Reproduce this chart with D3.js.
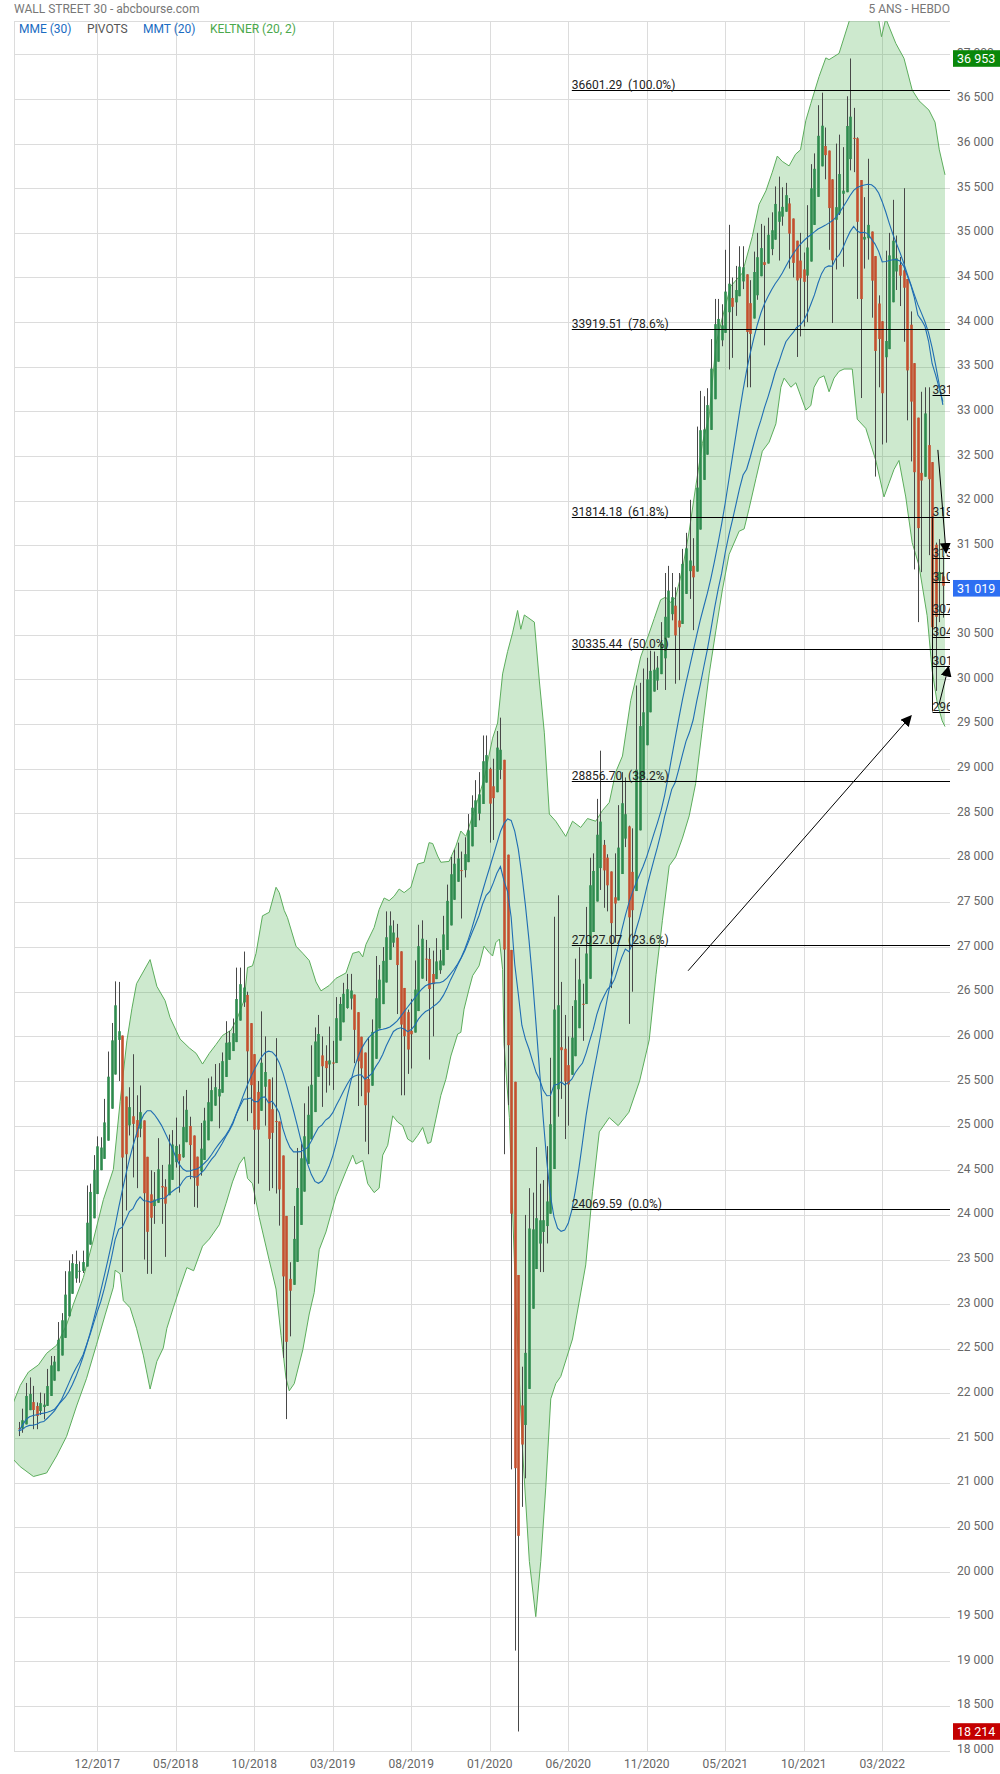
<!DOCTYPE html>
<html><head><meta charset="utf-8">
<script src="https://cdn.jsdelivr.net/npm/d3@7"></script>
<style>body{margin:0;background:#fff;} svg{display:block;font-family:Roboto,"Noto Sans",sans-serif;}</style>
</head><body><svg id="c" width="1000" height="1774"></svg>
<script>
// ---- weekly data (week 0 = 17/07/2017) ----
const opens = [21640,21580,21850,22100,21900,21680,21810,21990,21900,22270,22350,22420,22770,22870,23330,23440,23540,23420,23380,23560,24280,24360,24740,24750,24810,25310,25800,26100,26600,25500,24200,25200,25320,24500,25340,24940,23600,24100,23950,24370,24460,24310,24270,24830,24720,24760,24650,25320,25050,24600,24270,24480,25020,25070,25450,25470,25300,25680,25800,25960,25910,26160,26740,26460,26440,25330,25450,24700,25280,25990,25400,24300,25550,24400,24100,22400,23060,23450,23950,24650,24750,25060,25100,25890,26040,26000,25460,25860,25500,25980,26430,26420,26560,26550,26200,25900,25750,25600,24830,25990,26100,26720,26740,26930,27330,27160,27200,26400,26280,25900,25630,26400,26800,27220,26930,26820,26560,26810,26770,26960,27350,27680,28000,27880,28040,28020,28140,28460,28650,28640,28830,29350,28990,28260,29100,29400,28900,25410,25860,23180,19170,21630,21050,23720,24240,23780,23720,24330,23690,24460,25380,27110,25600,25870,25020,25830,26080,26670,26470,26430,27440,27930,27930,28650,28130,27670,27660,27170,27680,28590,28600,28330,26500,28320,29480,29260,29910,30220,30050,30180,30200,30630,31080,30830,31000,30000,31150,31470,31480,30940,31500,32790,32640,33080,33160,33800,34180,34050,33900,34780,34380,34210,34530,34760,34480,33300,34430,34790,34880,34680,35060,34930,35210,35520,35120,35460,35370,34610,34580,34800,34330,34740,35300,35680,35830,36330,36100,35600,34900,34590,35970,35360,35960,36320,36230,35900,34260,34730,35090,34740,34080,34060,33600,32950,34750,34860,34810,34720,34450,33800,32980,32900,32200,31270,33210,32910,31390,29900,31500,31100];
const highs = [21681,21830,22118,22180,22085,21900,22010,22000,22275,22420,22420,22800,22900,23370,23490,23560,23600,23480,23600,24330,24350,24670,24880,24870,25300,25830,26150,26616,26610,25520,25250,25430,25800,25340,25450,25000,24200,24500,24480,24860,24560,24400,24900,24950,25090,24790,25330,25400,25100,24700,24500,25030,25200,25530,25550,25690,25700,25820,26170,26060,26200,26770,26770,26950,26500,25900,25560,25500,26280,26000,25450,25540,25980,24760,24300,23140,23470,24100,24750,24800,25250,25440,25900,26100,26240,26000,25900,26110,25950,26440,26440,26600,26700,26700,26450,26000,25900,25680,25990,26190,26900,26800,27000,27400,27400,27300,27260,26500,26500,26300,26420,26850,27250,27300,27080,26990,26960,27100,26970,27350,27700,28010,28090,28170,28070,28230,28490,28700,28870,28960,29370,29370,29010,29110,29420,29570,28900,27100,25860,23180,22600,22300,24000,24300,24250,24760,24350,24390,24770,25760,27340,27580,26610,26240,26000,26340,26870,27000,26590,27450,28000,28050,28660,29200,28200,28040,27700,28050,28590,28960,28900,28360,28330,29930,29960,30120,30240,30320,30310,30260,30640,31190,31270,31190,31030,31190,31460,31640,32010,31580,32830,33230,33170,33260,33810,34260,34260,34200,34810,35090,34500,34630,34850,34850,34520,34470,34790,35000,35100,35080,35170,35230,35520,35630,35510,35560,35390,34960,34880,35000,34780,35310,35770,35890,36430,36570,36180,35800,35300,36000,36100,35960,36530,36953,36400,36070,34900,35400,35830,34990,34300,34300,33640,34800,35000,35370,34970,34730,35500,34160,34120,32950,32670,33220,33270,33270,31400,31530,31570,31380];
const lows = [21523,21560,21830,21840,21600,21600,21760,21710,21890,22220,22250,22410,22740,22860,23220,23300,23240,23240,23350,23530,24070,24340,24700,24680,24740,25250,25800,26060,25500,23360,24050,24890,24420,24300,24870,23500,23340,23340,23900,24350,23900,23530,24260,24660,24530,24250,24640,24900,24400,24090,24080,24440,24950,25000,25130,25250,24970,25600,25780,25800,25880,26000,26370,26330,25050,25140,24120,24350,25270,25000,24270,24300,24240,23880,22400,21713,22640,23380,23800,24350,24460,24880,24950,25750,25800,25210,25370,25450,25400,25970,26170,26330,26310,26300,25700,25220,25330,24820,24680,25930,25990,26420,26720,26780,27080,27000,26250,25340,25340,25580,25640,26050,26770,26920,26620,25740,26000,26680,26700,26910,27340,27570,27770,27870,27320,27780,28140,28440,28420,28420,28780,28890,28170,28200,29020,28880,24680,25230,21150,19120,18214,20730,21050,23130,23090,23590,23360,23360,23680,24460,25370,25100,25300,24850,25000,25700,26000,26410,25950,26400,27400,27500,27790,27640,27440,27400,26540,27050,27600,28290,28120,26140,26500,28220,29200,29230,29630,29790,29890,29880,30200,29880,30800,30660,29950,29990,31100,31260,30900,30550,31480,32510,32310,32790,33150,33650,33660,33730,33880,33470,33600,34070,34350,34370,33270,33270,34240,34250,34650,33740,34750,34750,35050,34690,35080,35300,34600,34500,33610,33840,33950,34000,35250,35480,35760,35800,35600,34810,33990,34590,35200,34620,35960,35700,35680,34260,33150,34600,34700,34050,32270,33270,32630,32650,34380,34600,34360,34180,33780,32900,32440,31230,30640,31200,32530,31390,29653,29870,30640,30690];
const closes = [21580,21830,22092,21858,21675,21814,21988,21798,22268,22350,22405,22774,22871,23329,23434,23539,23422,23358,23558,24231,24329,24651,24754,24719,25295,25803,26072,26616,25521,24191,25219,25310,24538,25336,24946,23533,24103,23933,24360,24463,24311,24263,24831,24715,24753,24635,25317,25090,24581,24271,24456,25019,25058,25451,25463,25313,25669,25790,25965,25917,26154,26743,26458,26447,25340,25444,24688,25270,25989,25413,24286,25538,24389,24100,22445,23062,23433,23996,24706,24737,25064,25106,25883,26031,26026,25450,25849,25502,25929,26425,26412,26559,26543,26505,25942,25764,25586,24815,25984,26090,26719,26600,26922,27332,27154,27192,26485,26287,25886,25629,26403,26797,27220,26935,26820,26573,26817,26770,26958,27347,27681,28005,27876,28051,28015,28135,28455,28645,28635,28824,29348,28990,28256,29102,29398,28992,25409,25865,23186,19174,21637,21053,23720,24242,23775,23724,24331,23685,24465,25383,27111,25606,25871,25016,25827,26075,26672,26470,26428,27433,27931,27930,28654,28133,27666,27657,27174,27682,28587,28606,28335,26502,28323,29479,29263,29910,30218,30046,30179,30199,30606,31098,30814,30997,29983,31148,31458,31494,30932,31496,32779,32628,33073,33153,33801,34200,34043,33875,34778,34382,34208,34529,34756,34480,33290,34433,34786,34870,34688,35062,34935,35209,35515,35120,35455,35369,34607,34584,34798,34326,34746,35295,35677,35820,36328,36100,35602,34899,34580,35971,35365,35951,36338,36232,35912,34265,34725,35089,34738,34079,34059,33615,32944,34755,34861,34818,34721,34451,33811,32977,32899,32197,31262,33213,32900,31393,29888,31501,31097,31019];

// Keltner band: [week index, value]
const keltnerUpper = [[-1.5,21900],[0.4,22090],[2.7,22240],[5.5,22320],[7.8,22450],[10.6,22540],[13.4,22770],[15.3,23000],[18.1,23300],[20.9,23720],[23.7,24170],[26.5,24510],[28.4,25270],[30.3,25950],[31.7,26310],[33,26590],[36.8,26860],[38.7,26560],[41,26400],[42.4,26210],[45.2,25970],[47.8,25870],[49.7,25810],[51.5,25690],[53.4,25810],[55.3,25910],[57.1,26010],[59.5,26070],[61.3,26210],[63.2,26410],[64.1,26770],[65.5,26790],[66.5,26930],[68.3,27350],[70.2,27390],[72.1,27670],[73,27610],[74.4,27410],[75.3,27330],[77.7,27010],[79.6,26930],[81.4,26850],[83.3,26610],[84.7,26510],[87,26570],[88.9,26650],[91.7,26710],[93.6,26930],[95.4,26950],[96.4,26890],[97.3,27030],[99.6,27220],[101,27420],[102.4,27550],[103.8,27520],[105.2,27570],[106.6,27650],[108,27610],[109.9,27670],[111.8,27930],[113.6,27950],[115,28170],[116,28160],[117.4,28020],[118.3,27950],[120.6,27960],[122.5,28130],[123.9,28300],[125.3,28240],[128.1,28580],[130.4,28880],[132.8,29340],[134.2,29510],[135.6,30060],[137,30310],[138.4,30520],[139.8,30770],[140.7,30560],[141.7,30720],[144.5,30640],[145.9,29980],[147.3,29400],[148.7,28490],[150.5,28410],[153.3,28240],[155.2,28410],[157.5,28340],[159.4,28440],[161.7,28410],[163.6,28530],[165.5,28620],[167.3,28960],[169.2,29140],[171.5,29760],[172.9,30000],[174.3,30250],[176.2,30460],[178.1,30680],[179.9,30890],[181.3,30920],[182.7,30860],[184.1,30920],[186,31230],[187.9,31660],[189.7,32150],[191.6,32640],[193.5,32950],[195.4,33750],[197.2,34050],[199.5,34400],[202.8,34550],[205.6,34960],[207.5,35320],[209.4,35470],[211.2,35680],[212.6,35860],[214,35800],[215.9,35750],[217.7,35880],[219.1,35930],[220.6,36260],[222,36450],[224.3,36750],[226.2,36960],[227.1,36940],[229.9,37010],[232.7,37365],[235,37700],[238,37850],[240.5,37500],[241.8,37197],[243,37400],[245.8,37123],[248.1,36955],[250.4,36600],[252.3,36480],[255.1,36375],[256.8,36240],[258,35930],[259.6,35650]];
const keltnerLower = [[-1.5,21260],[0.4,21180],[4.1,21070],[7.8,21110],[10.6,21300],[13.4,21520],[16.2,21860],[19,22170],[21.8,22550],[24.2,22880],[26.5,23190],[27,23380],[28.4,23340],[29.3,23040],[31.2,22960],[33,22730],[34.9,22430],[36.8,22050],[38.7,22360],[40.5,22510],[41.5,22730],[43.3,22960],[45.2,23190],[47.1,23410],[49,23375],[51.5,23650],[53.4,23730],[56.2,23890],[58.1,24130],[59.9,24370],[61.8,24570],[63.2,24650],[64.1,24410],[65.5,24350],[67.4,23970],[70.2,23490],[72.1,23170],[73.5,22650],[74.9,22170],[75.8,22030],[77.2,22110],[79.6,22490],[81.4,22890],[82.8,23130],[84.2,23610],[86.1,23810],[88.9,24210],[91.7,24490],[93.6,24670],[94.5,24570],[96.4,24610],[97.8,24350],[99.6,24250],[101,24300],[102,24670],[103.4,24780],[104.8,25110],[106.2,25040],[107.6,25000],[109,24850],[110.4,24815],[111.8,24890],[113.2,24980],[114.6,24800],[115.5,24815],[116.9,25075],[118.3,25340],[119.7,25520],[121.1,25780],[123,26025],[123.9,26045],[124.8,26305],[126.2,26530],[127.2,26680],[129,26790],[130.4,27010],[131.8,26940],[132.8,26900],[133.7,27050],[134.7,27090],[135.6,26750],[136,25920],[137.5,25090],[139.3,23020],[141.2,21360],[143.1,20120],[144.9,19500],[146.3,20120],[147.7,20950],[149.1,21940],[150.5,22110],[151.9,22190],[155.2,22610],[158.9,23440],[160.8,24260],[162.7,24930],[165.5,25090],[168,25000],[171,25150],[174,25500],[176.7,25960],[178.6,26690],[180.4,27300],[182.3,27910],[184.1,28010],[186,28220],[187.9,28470],[189.7,28830],[191.6,29450],[193.5,30060],[195.4,30550],[197.2,31000],[199.1,31400],[201.9,31658],[203.3,31684],[204.7,31914],[206.6,32246],[208.4,32554],[210.3,32656],[212.2,32861],[213.6,33271],[214.5,33373],[216.4,33271],[217.8,33321],[219.2,33168],[220.6,33015],[222,33066],[222.9,33271],[224.3,33373],[225.7,33399],[227.1,33220],[228.5,33373],[229.9,33449],[231.3,33475],[233.6,33475],[235,32913],[237.4,32810],[240.2,32451],[242.5,32042],[243.9,32196],[245.3,32350],[246.7,32451],[248.6,32042],[250.4,31530],[252.3,31274],[254.6,30711],[256,30098],[257.4,29740],[258.8,29535],[259.6,29470]];

// axis ticks
const dateTickIdx = [22,44,66,88,110,132,154,176,198,220,242];
const dateTickLabels = ["12/2017","05/2018","10/2018","03/2019","08/2019","01/2020","06/2020","11/2020","05/2021","10/2021","03/2022"];
const priceTicks = d3.range(18000, 37001, 500);

// Fibonacci retracements
const fibLevels = [36601.29,33919.51,31814.18,30335.44,28856.70,27027.07,24069.59];
const fibPct = ["100.0%","78.6%","61.8%","50.0%","38.2%","23.6%","0.0%"];
const fibStartIdx = 155;
const fib2Levels = [33185,31822,31356,31094,30732,30475,30150,29638];
const fib2Pct = ["100.0%","61.8%","50.0%","38.2%","30.9%","23.6%","14.6%","0.0%"];
const fib2StartIdx = 256.1;
// arrows: [idx0, v0, idx1, v1]
const arrows = [[187.6,26735,250.1,29590],[257.6,32569,259.9,31415],[257.9,29713,260.6,30142]];

const legend = [{t:"MME (30)",c:"#1a6cc2",x:19},{t:"PIVOTS",c:"#555",x:87},{t:"MMT (20)",c:"#1a6cc2",x:143},{t:"KELTNER (20, 2)",c:"#4aa84c",x:210}];

// ---- derived ----
const n = closes.length;
const ha = [];
for (let i=0;i<n;i++){
  const hc=(opens[i]+highs[i]+lows[i]+closes[i])/4;
  const ho= i===0 ? (opens[0]+closes[0])/2 : (ha[i-1].o+ha[i-1].c)/2;
  ha.push({i:i,o:ho,c:hc,h:Math.max(highs[i],ho,hc),l:Math.min(lows[i],ho,hc)});
}
// EMA 30
const ema=[]; const a=2/31;
closes.forEach((v,i)=>ema.push(i===0?v:ema[i-1]+a*(v-ema[i-1])));
// Triangular MA 20
function sma(arr,p){return arr.map((v,i)=>{const s=arr.slice(Math.max(0,i-p+1),i+1);return d3.mean(s);});}
const tma = sma(sma(closes,10),11);

// ---- scales ----
const P={l:14,r:950,t:21,b:1751};
const x=d3.scaleLinear().domain([-1.345,261.0]).range([P.l,P.r]);
const y=d3.scaleLinear().domain([18000,37000]).range([1750.6,54.3]);
const fmt=v=>d3.format(",")(v).replace(/,/g," ");

const svg=d3.select("#c");
svg.append("rect").attr("width",1000).attr("height",1774).attr("fill","#fff");
const defs=svg.append("defs");
defs.append("clipPath").attr("id","clip").append("rect").attr("x",P.l).attr("y",P.t).attr("width",P.r-P.l).attr("height",P.b-P.t);
defs.append("marker").attr("id","ah").attr("viewBox","0 0 10 10").attr("refX",9).attr("refY",5)
  .attr("markerWidth",11).attr("markerHeight",11).attr("markerUnits","userSpaceOnUse").attr("orient","auto")
  .append("path").attr("d","M0,0L10,5L0,10Z").attr("fill","#000");

// grid
const g=svg.append("g");
g.selectAll("line.h").data(priceTicks).join("line").attr("x1",P.l).attr("x2",P.r)
  .attr("y1",d=>Math.round(y(d))+0.5).attr("y2",d=>Math.round(y(d))+0.5).attr("stroke","#dcdcdc");
g.selectAll("line.v").data(dateTickIdx).join("line").attr("y1",P.t).attr("y2",P.b)
  .attr("x1",d=>Math.round(x(d))+0.5).attr("x2",d=>Math.round(x(d))+0.5).attr("stroke","#dcdcdc");
g.append("line").attr("x1",P.l).attr("x2",P.r).attr("y1",P.t+0.5).attr("y2",P.t+0.5).attr("stroke","#dcdcdc");
g.append("line").attr("x1",P.l+0.5).attr("x2",P.l+0.5).attr("y1",P.t).attr("y2",P.b).attr("stroke","#dcdcdc");
g.append("line").attr("x1",P.l).attr("x2",P.r).attr("y1",P.b+0.5).attr("y2",P.b+0.5).attr("stroke","#dcdcdc");

const cg=svg.append("g").attr("clip-path","url(#clip)");
// Keltner band
const lineGen=d3.line().x(d=>x(d[0])).y(d=>y(d[1]));
const poly=keltnerUpper.concat(keltnerLower.slice().reverse());
cg.append("path").attr("d",lineGen(poly)+"Z").attr("fill","rgba(76,175,80,0.28)").attr("stroke","none");
cg.append("path").attr("d",lineGen(keltnerUpper)).attr("fill","none").attr("stroke","#5cad5c").attr("stroke-width",1);
cg.append("path").attr("d",lineGen(keltnerLower)).attr("fill","none").attr("stroke","#5cad5c").attr("stroke-width",1);

// candles
const cw=2.6;
cg.selectAll("line.w").data(ha).join("line").attr("x1",d=>Math.round(x(d.i))+0.5).attr("x2",d=>Math.round(x(d.i))+0.5)
  .attr("y1",d=>y(d.h)).attr("y2",d=>y(d.l)).attr("stroke","#484848").attr("stroke-width",1);
cg.selectAll("rect.b").data(ha).join("rect").attr("x",d=>Math.round(x(d.i))+0.5-cw/2).attr("width",cw)
  .attr("y",d=>y(Math.max(d.o,d.c))).attr("height",d=>Math.max(1,Math.abs(y(d.o)-y(d.c))))
  .attr("fill",d=>d.c>=d.o?"#2e8b4e":"#c4502f");

// moving averages
const maLine=d3.line().x((d,i)=>x(i)).y(d=>y(d));
cg.append("path").attr("d",maLine(ema)).attr("fill","none").attr("stroke","#1f6db3").attr("stroke-width",1.1);
cg.append("path").attr("d",maLine(tma)).attr("fill","none").attr("stroke","#1f6db3").attr("stroke-width",1.1);

// Fibonacci
const fg=svg.append("g").attr("clip-path","url(#clip)");
fibLevels.forEach((v,k)=>{
  const yy=Math.round(y(v))+0.5;
  fg.append("line").attr("x1",x(fibStartIdx)).attr("x2",P.r).attr("y1",yy).attr("y2",yy).attr("stroke","#000");
  fg.append("text").attr("x",x(fibStartIdx)).attr("y",yy-1.5).attr("font-size",12).attr("fill","#222")
    .style("white-space","pre").text(v.toFixed(2)+"  ("+fibPct[k]+")");
});
fib2Levels.forEach((v,k)=>{
  const yy=Math.round(y(v))+0.5;
  fg.append("line").attr("x1",x(fib2StartIdx)).attr("x2",P.r).attr("y1",yy).attr("y2",yy).attr("stroke","#000");
  fg.append("text").attr("x",x(fib2StartIdx)).attr("y",yy-1.5).attr("font-size",12).attr("fill","#222")
    .style("white-space","pre").text(v.toFixed(2)+"  ("+fib2Pct[k]+")");
});
fg.append("line").attr("x1",x(fib2StartIdx)).attr("x2",x(fib2StartIdx)).attr("y1",y(fib2Levels[1])).attr("y2",y(fib2Levels[7])).attr("stroke","#000").attr("stroke-width",0.8);
arrows.forEach(a=>{
  svg.append("line").attr("x1",x(a[0])).attr("y1",y(a[1])).attr("x2",x(a[2])).attr("y2",y(a[3]))
    .attr("stroke","#000").attr("stroke-width",1).attr("marker-end","url(#ah)");
});

// price axis labels
svg.selectAll("text.p").data(priceTicks).join("text").attr("x",957).attr("y",d=>y(d)+2.5)
  .attr("font-size",12).attr("fill","#666").text(fmt);
// date labels
svg.selectAll("text.d").data(dateTickIdx).join("text").attr("x",d=>x(d)).attr("y",1768).attr("text-anchor","middle")
  .attr("font-size",12).attr("fill","#666").text((d,k)=>dateTickLabels[k]);

// tags
const tags=[{v:d3.max(highs),c:"#0a870a"},{v:closes[n-1],c:"#2d6ff2"},{v:d3.min(lows),c:"#c40000"}];
tags.forEach(t=>{
  const yy=y(t.v);
  svg.append("rect").attr("x",953).attr("y",yy-8.3).attr("width",47).attr("height",16.6).attr("fill",t.c);
  svg.append("text").attr("x",957).attr("y",yy+4.3).attr("font-size",12.5).attr("fill","#fff").text(fmt(t.v));
});

// header
svg.append("text").attr("x",14).attr("y",12.5).attr("font-size",12).attr("fill","#777").text("WALL STREET 30 - abcbourse.com");
svg.append("text").attr("x",950).attr("y",12.5).attr("font-size",12).attr("fill","#777").attr("text-anchor","end").text("5 ANS - HEBDO");
legend.forEach(l=>svg.append("text").attr("x",l.x).attr("y",33).attr("font-size",12).attr("fill",l.c).text(l.t));
</script></body></html>
